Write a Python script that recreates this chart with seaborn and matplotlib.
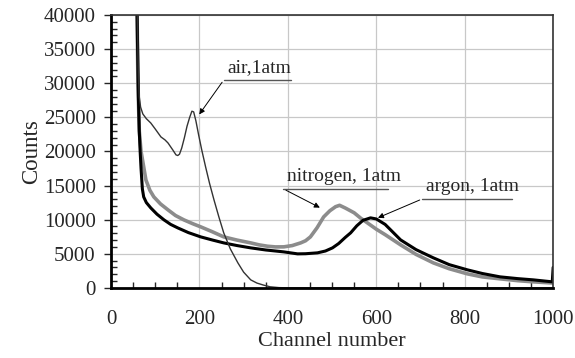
import numpy as np
import pandas as pd
import matplotlib
matplotlib.use("Agg")
import matplotlib.pyplot as plt
import seaborn as sns
from matplotlib.ticker import MultipleLocator

# --- data ---
air_x = [55, 58, 60, 62, 64, 67, 72, 80, 90, 100, 113, 122, 129, 140, 147, 151, 155, 160, 166, 172, 178,
         183, 187, 192, 198, 205, 214, 223, 233, 244, 255, 270, 287, 300, 316, 330, 345, 360, 380, 400, 1000]
air_y = [60000, 45000, 38000, 31000, 28000, 26500, 25500, 24800, 24170, 23300, 22125, 21700, 21240, 20200,
         19500, 19400, 19600, 20500, 22000, 23700, 25000, 25900, 25800, 24500, 22500, 20300, 17730, 15300,
         12890, 10400, 8060, 5700, 3660, 2300, 1170, 700, 400, 150, 30, 0, 0]

nitrogen_x = [55, 58, 61, 64, 68, 72, 79, 88, 97, 112, 129, 146, 165, 185, 203, 230, 255, 285, 316, 335,
              354, 372, 391, 410, 429, 440, 451, 466, 481, 495, 508, 517, 530, 550, 565, 580, 600, 620, 655,
              690, 729, 765, 806, 840, 880, 920, 955, 1000]
nitrogen_y = [60000, 45000, 30000, 23000, 20000, 18500, 15820, 14300, 13330, 12300, 11430, 10600, 9960,
              9400, 8940, 8200, 7470, 7000, 6590, 6300, 6100, 6000, 6010, 6200, 6590, 6900, 7470, 8800,
              10400, 11300, 11900, 12100, 11700, 11000, 10200, 9520, 8600, 7800, 6300, 4900, 3660, 2800,
              2050, 1600, 1320, 1050, 880, 700]

argon_x = [55, 58, 60, 62, 64, 66, 68, 71, 74, 80, 90, 104, 120, 135, 151, 175, 203, 230, 255, 285, 316,
           350, 391, 422, 440, 467, 485, 501, 515, 530, 542, 556, 570, 587, 600, 620, 637, 655, 690, 729,
           765, 806, 840, 880, 920, 955, 980, 998, 1000]
argon_y = [60000, 45000, 36000, 28000, 23000, 20000, 17500, 14500, 13330, 12500, 11720, 10800, 9960, 9300,
           8790, 8100, 7470, 7000, 6590, 6200, 5860, 5550, 5270, 4980, 5000, 5130, 5400, 5860, 6500, 7400,
           8060, 9100, 9900, 10260, 10100, 9300, 8200, 7030, 5600, 4400, 3400, 2640, 2100, 1610, 1350,
           1170, 1000, 880, 3000]

# label text, arrow tip, underline start / end (data units)
labels = ["air,1atm", "nitrogen, 1atm", "argon, 1atm"]
tips = [(196, 25100), (478, 11575), (598, 10110)]
line_start = [(255, 30476), (390, 14505), (704, 13040)]
line_end = [407, 627, 907]

sns.set_style("white")
plt.rcParams['font.family'] = ['Liberation Serif', 'DejaVu Serif']

fig, ax = plt.subplots(figsize=(5.75, 3.58), dpi=100)
fig.subplots_adjust(left=0.193, right=0.962, top=0.958, bottom=0.196)

sns.lineplot(x=nitrogen_x, y=nitrogen_y, ax=ax, color="#8c8c8c", linewidth=2.6)
sns.lineplot(x=argon_x, y=argon_y, ax=ax, color="black", linewidth=2.2)
sns.lineplot(x=air_x, y=air_y, ax=ax, color="#333333", linewidth=1.0)

ax.set_xlim(0, 1000)
ax.set_ylim(0, 40000)
ax.xaxis.set_major_locator(MultipleLocator(200))
ax.xaxis.set_minor_locator(MultipleLocator(50))
ax.yaxis.set_major_locator(MultipleLocator(5000))
ax.yaxis.set_minor_locator(MultipleLocator(1000))
ax.grid(True, which="major", color="#c8c8c8", linewidth=0.9)
ax.set_axisbelow(True)

ax.tick_params(axis="x", which="major", direction="inout", length=8, width=1.2, labelsize=15, pad=12)
ax.tick_params(axis="x", which="minor", direction="in", length=4, width=1.0, bottom=True)
ax.tick_params(axis="y", which="major", direction="out", length=5, width=1.0, labelsize=15, left=True, pad=6)
ax.tick_params(axis="y", which="minor", direction="in", length=4, width=1.0, left=True)

for side in ["left", "bottom"]:
    ax.spines[side].set_color("black")
    ax.spines[side].set_linewidth(2.0)
for side in ["top", "right"]:
    ax.spines[side].set_color("#333333")
    ax.spines[side].set_linewidth(1.2)

ax.set_xlabel("Channel number", fontsize=16, labelpad=2)
ax.set_ylabel("Counts", fontsize=16.5, labelpad=1)

for text, tip, start, end in zip(labels, tips, line_start, line_end):
    ax.annotate("", xy=tip, xytext=start,
                arrowprops=dict(arrowstyle="-|>", color="black", lw=0.7, mutation_scale=8))
    ax.plot([start[0], end], [start[1], start[1]], color="#555555", linewidth=1.0)
    ax.text(start[0] + 8, start[1] + 500, text, fontsize=14, ha="left", va="bottom")

fig.savefig("out.png", dpi=100)
